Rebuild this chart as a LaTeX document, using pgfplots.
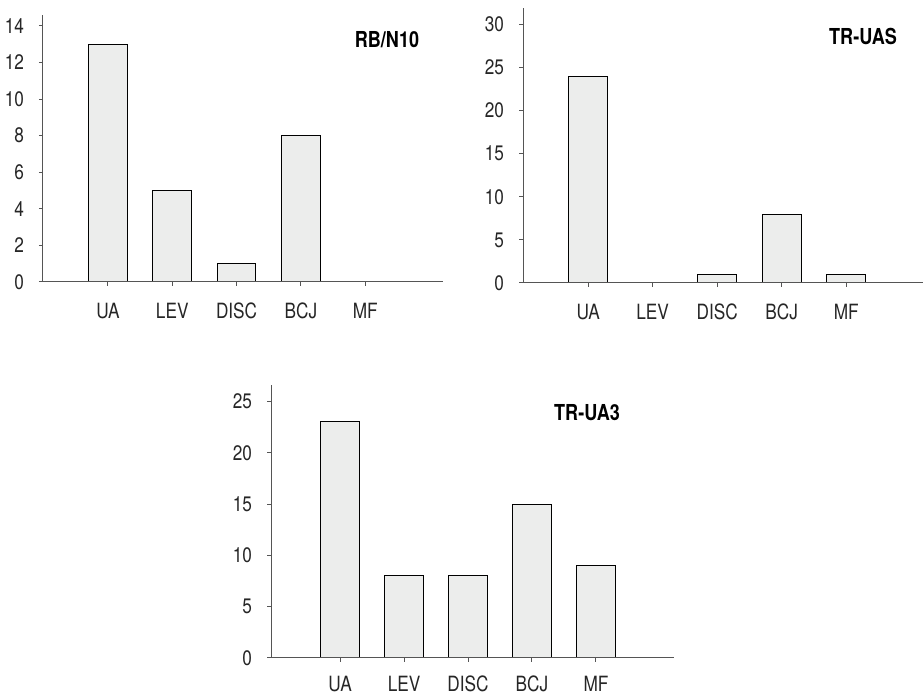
\documentclass[border=0pt]{standalone}
\usepackage{fontspec}
\setmainfont{TeX Gyre Heros}[FakeStretch=0.82]
\usepackage{pgfplots}
\pgfplotsset{compat=1.18}
\definecolor{barfill}{HTML}{ECEDEC}
\definecolor{axisgray}{HTML}{555555}

\pgfplotsset{
  panel/.style={
    scale only axis,
    anchor=south west,
    axis x line=bottom,
    axis y line=left,
    axis line style={-, draw=axisgray, line width=0.5pt},
    tick style={draw=axisgray, line width=0.5pt},
    tick align=outside,
    major tick length=2pt,
    ymin=0,
    xtick={0,1,2,3,4},
    xticklabels={UA,LEV,DISC,BCJ,MF},
    ticklabel style={font=\fontsize{10.5}{12}\selectfont, text=black!85},
    yticklabel style={xshift=-4pt},
    /pgf/number format/assume math mode=true,
    ybar,
    bar width=0.6,
    axis on top,
    clip=false,
  },
  bars/.style={draw=black, fill=barfill, line width=0.5pt},
}
\tikzset{paneltitle/.style={font=\bfseries\fontsize{11}{13}\selectfont}}

\begin{document}
\begin{tikzpicture}
  \path[use as bounding box] (0,0) rectangle (461.5pt,348.5pt);

  % RB/N10
  \begin{axis}[panel,
    at={(21.5pt,207.5pt)},
    width=200pt, height=133.5pt,
    xmin=-1.01, xmax=5.21,
    ymax=14.6,
    ytick={0,2,...,14},
    xticklabel style={yshift=-5pt}]
    \addplot[bars] coordinates {(0,13) (1,5) (2,1) (3,8) (4,0)};
    \node[paneltitle] at (rel axis cs:0.86,0.906) {RB/N10};
  \end{axis}

  % TR-UAS
  \begin{axis}[panel,
    at={(261.5pt,207pt)},
    width=200pt, height=137.5pt,
    xmin=-1.01, xmax=5.19,
    ymax=31.9,
    ytick={0,5,...,30},
    xticklabel style={yshift=-5pt}]
    \addplot[bars] coordinates {(0,24) (1,0) (2,1) (3,8) (4,1)};
    \node[paneltitle] at (rel axis cs:0.85,0.898) {TR-UAS};
  \end{axis}

  % TR-UA3
  \begin{axis}[panel,
    at={(135.5pt,19.5pt)},
    width=201.5pt, height=136.5pt,
    xmin=-1.08, xmax=5.22,
    ymax=26.6,
    ytick={0,5,...,25},
    xticklabel style={yshift=-3.6pt}]
    \addplot[bars] coordinates {(0,23) (1,8) (2,8) (3,15) (4,9)};
    \node[paneltitle] at (rel axis cs:0.784,0.898) {TR-UA3};
  \end{axis}
\end{tikzpicture}
\end{document}
